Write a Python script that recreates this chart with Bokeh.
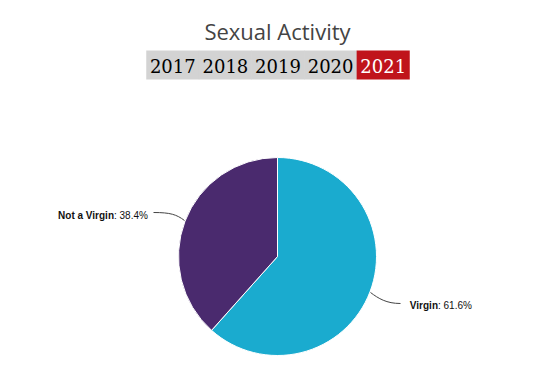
import math
from bokeh.plotting import figure
from bokeh.models import Range1d, ColumnDataSource
from bokeh.core.properties import value
from bokeh.embed import file_html
from bokeh.resources import INLINE

# ---- data ----
title = "Sexual Activity"
years = ["2017", "2018", "2019", "2020", "2021"]
selected_year = "2021"
categories = ["Virgin", "Not a Virgin"]
values = [61.6, 38.4]
colors = ["#1aabcf", "#4a2a6e"]

W, H = 523, 356
OX, OY = 0, 0  # page offset of the figure
p = figure(width=W, height=H, output_backend="svg", toolbar_location=None,
           x_range=Range1d(OX, OX + W), y_range=Range1d(372 - OY - H, 372 - OY),
           min_border=0, outline_line_color=None)
p.axis.visible = False
p.grid.visible = False
p.background_fill_color = "white"
p.border_fill_color = "white"

def Y(py):  # page pixel y -> data y
    return 372 - py

# title
p.text(x=[277], y=[Y(30)], text=[title], text_font=value("Open Sans"),
       text_font_size="22px", text_color="#444444", text_align="center",
       text_baseline="middle")

# year buttons
bx0, bw, by_top, bh = 146, 52.6, 50, 29
xs = [bx0 + bw * (i + 0.5) for i in range(len(years))]
fills = ["#c0141b" if y == selected_year else "#d3d3d3" for y in years]
tcols = ["white" if y == selected_year else "#000000" for y in years]
p.rect(x=xs, y=[Y(by_top + bh / 2)] * len(years), width=bw + 0.5, height=bh,
       fill_color=fills, line_color=None)
p.text(x=xs, y=[Y(by_top + bh / 2 + 1)] * len(years), text=years,
       text_font=value("DejaVu Serif"), text_font_size="18px",
       text_color=tcols, text_align="center", text_baseline="middle")

# pie
cx, cy, r = 277, Y(256), 99
total = sum(values)
starts, ends = [], []
a = math.pi / 2
for v in values:
    starts.append(a)
    a = a - 2 * math.pi * v / total
    ends.append(a)
src = ColumnDataSource(dict(start=starts, end=ends, color=colors))
p.wedge(x=cx, y=cy, radius=r, start_angle="start", end_angle="end",
        direction="clock", fill_color="color", line_color="white",
        line_width=1, source=src)

# connectors
p.bezier(x0=[153], y0=[Y(212)], x1=[184], y1=[Y(220)],
         cx0=[170], cy0=[Y(212)], cx1=[176], cy1=[Y(214)],
         line_color="#444444", line_width=1)
p.bezier(x0=[370], y0=[Y(292)], x1=[400], y1=[Y(303)],
         cx0=[378], cy0=[Y(298)], cx1=[386], cy1=[Y(303)],
         line_color="#444444", line_width=1)

# labels: bold name right-aligned at split point, value left-aligned after it
lab = {
    "Not a Virgin": (113.5, 214.5),
    "Virgin": (437.5, 305),
}
for c, v in zip(categories, values):
    xs_, yy = lab[c]
    p.text(x=[xs_], y=[Y(yy)], text=[c], text_font=value("Liberation Sans"),
           text_font_size="10px", text_font_style="bold", text_color="#111111",
           text_baseline="middle", text_align="right")
    p.text(x=[xs_], y=[Y(yy)], text=[f": {v}%"], text_font=value("Liberation Sans"),
           text_font_size="10px", text_color="#111111",
           text_baseline="middle", text_align="left")

open("out.html", "w").write(file_html(p, INLINE))
